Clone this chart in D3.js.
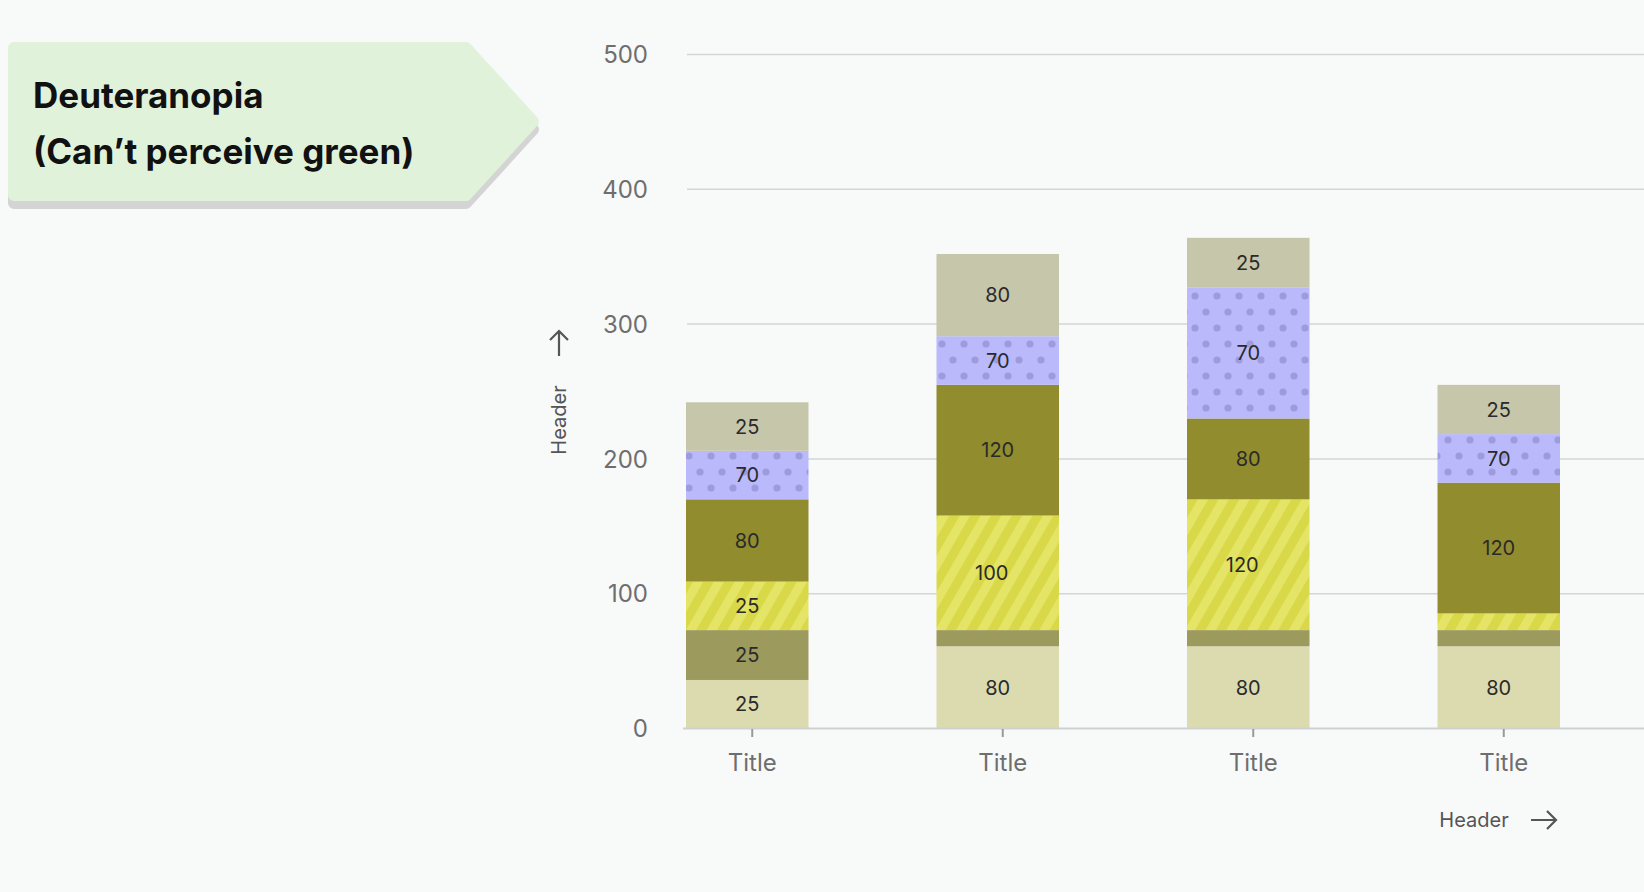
<!DOCTYPE html>
<html>
<head>
<meta charset="utf-8">
<script src="https://cdn.jsdelivr.net/npm/d3@7"></script>
<style>
  html, body { margin: 0; padding: 0; background: #f8f9f9; }
  svg { display: block; font-family: Inter, "Noto Sans", sans-serif; }
</style>
</head>
<body>
<svg id="chart" width="1644" height="892"></svg>
<script>
// ---------- data ----------
const categories = ["Title", "Title", "Title", "Title"];
const yTicks = [0, 100, 200, 300, 400, 500];

// segment heights (bottom -> top)
const baseValues    = [36, 61, 61, 61];
const lowerValues   = [37, 12, 12, 12];
const stripedValues = [36, 85, 97, 12.4];
const oliveValues   = [61, 97, 60, 97];
const dottedValues  = [36, 36, 97, 36];
const topValues     = [36, 61, 37, 36.5];

// printed labels
const baseLabels    = ["25", "80", "80", "80"];
const lowerLabels   = ["25", "", "", ""];
const stripedLabels = ["25", "100", "120", ""];
const oliveLabels   = ["80", "120", "80", "120"];
const dottedLabels  = ["70", "70", "70", "70"];
const topLabels     = ["25", "80", "25", "25"];

const seriesKeys = ["base", "lower", "striped", "olive", "dotted", "top"];
const seriesValues = { base: baseValues, lower: lowerValues, striped: stripedValues,
                       olive: oliveValues, dotted: dottedValues, top: topValues };
const seriesLabels = { base: baseLabels, lower: lowerLabels, striped: stripedLabels,
                       olive: oliveLabels, dotted: dottedLabels, top: topLabels };

const badgeLines = ["Deuteranopia", "(Can\u2019t perceive green)"];
const yAxisTitle = "Header";
const xAxisTitle = "Header";

// ---------- setup ----------
const svg = d3.select("#chart");
const defs = svg.append("defs");

// stripe pattern
const sp = defs.append("pattern").attr("id", "stripes")
  .attr("patternUnits", "userSpaceOnUse").attr("width", 18).attr("height", 18)
  .attr("patternTransform", "rotate(30)");
sp.append("rect").attr("width", 18).attr("height", 18).attr("fill", "#e4e466");
sp.append("rect").attr("x", 0).attr("width", 9).attr("height", 18).attr("fill", "#d8d848");

// dot pattern
const dp = defs.append("pattern").attr("id", "dots")
  .attr("patternUnits", "userSpaceOnUse").attr("width", 22).attr("height", 32)
  .attr("x", 3).attr("y", 4);
dp.append("rect").attr("width", 22).attr("height", 32).attr("fill", "#b9b9fb");
dp.append("circle").attr("cx", 4).attr("cy", 4).attr("r", 3.6).attr("fill", "#9d9bdc");
dp.append("circle").attr("cx", 15).attr("cy", 20).attr("r", 3.6).attr("fill", "#9d9bdc");

const fills = {
  base: "#dcdbb0", lower: "#9d9a5e", striped: "url(#stripes)",
  olive: "#918c2e", dotted: "url(#dots)", top: "#c6c6aa"
};

const y = d3.scaleLinear().domain([0, 500]).range([728.5, 54.5]);
const idx = categories.map((c, i) => i);
const x = d3.scaleBand().domain(idx).range([686, 1560]).paddingInner(0.511).paddingOuter(0);
const tickOffset = 5;

// ---------- badge ----------
const badge = svg.append("g");
const badgePts = [[14, 48], [466, 48], [533, 121.5], [466, 195], [14, 195]];
const badgePath = d3.line()(badgePts) + "Z";
badge.append("path").attr("d", badgePath).attr("transform", "translate(0,8)")
  .attr("fill", "#d4d4d4").attr("stroke", "#d4d4d4").attr("stroke-width", 12).attr("stroke-linejoin", "round");
badge.append("path").attr("d", badgePath)
  .attr("fill", "#e1f2db").attr("stroke", "#e1f2db").attr("stroke-width", 12).attr("stroke-linejoin", "round");
badge.selectAll("text").data(badgeLines).join("text")
  .attr("x", 33).attr("y", (d, i) => 107.5 + i * 56)
  .attr("font-size", 35).attr("font-weight", 700).attr("fill", "#111")
  .text(d => d);

// ---------- grid ----------
svg.append("g").selectAll("line").data(yTicks.filter(t => t > 0)).join("line")
  .attr("x1", 687).attr("x2", 1644)
  .attr("y1", d => y(d)).attr("y2", d => y(d))
  .attr("stroke", "#d4d6d6").attr("stroke-width", 1.5);

// ---------- y axis ----------
const yAxis = svg.append("g").attr("transform", "translate(648,0)")
  .call(d3.axisLeft(y).tickValues(yTicks).tickSize(0).tickPadding(0));
yAxis.select(".domain").remove();
yAxis.selectAll("text").attr("font-size", 24).attr("fill", "#6e6e6e")
  .attr("font-family", "Inter, sans-serif").attr("dy", "0.34em");

// ---------- bars ----------
const rows = idx.map(i => {
  const r = { i };
  seriesKeys.forEach(k => r[k] = seriesValues[k][i]);
  return r;
});
const stacked = d3.stack().keys(seriesKeys)(rows);

const barG = svg.append("g");
stacked.forEach(layer => {
  const key = layer.key;
  barG.append("g").selectAll("rect").data(layer).join("rect")
    .attr("x", d => x(d.data.i))
    .attr("width", x.bandwidth())
    .attr("y", d => y(d[1]))
    .attr("height", d => y(d[0]) - y(d[1]))
    .attr("fill", fills[key]);
});

// labels
const labelG = svg.append("g");
stacked.forEach(layer => {
  const key = layer.key;
  labelG.append("g").selectAll("text").data(layer).join("text")
    .attr("x", d => x(d.data.i) + x.bandwidth() / 2 +
      (key === "striped" && seriesLabels[key][d.data.i].length > 2 ? -6 : 0))
    .attr("y", d => (y(d[0]) + y(d[1])) / 2)
    .attr("dy", "0.36em")
    .attr("text-anchor", "middle")
    .attr("font-size", 20).attr("fill", "#2a2a2a")
    .text(d => seriesLabels[key][d.data.i]);
});

// ---------- x axis ----------
svg.append("line").attr("x1", 683).attr("x2", 1644).attr("y1", 728.5).attr("y2", 728.5)
  .attr("stroke", "#cfd1d1").attr("stroke-width", 2);
const xAxis = svg.append("g").attr("transform", `translate(${tickOffset},729)`)
  .call(d3.axisBottom(x).tickFormat(i => categories[i]).tickSize(8).tickPadding(17));
xAxis.select(".domain").remove();
xAxis.selectAll(".tick line").attr("stroke", "#9a9a9a").attr("stroke-width", 2);
xAxis.selectAll("text").attr("font-size", 24).attr("fill", "#6e6e6e")
  .attr("font-family", "Inter, sans-serif");

// ---------- axis titles ----------
svg.append("text").attr("transform", "translate(566,420) rotate(-90)")
  .attr("text-anchor", "middle").attr("font-size", 20).attr("fill", "#555")
  .text(yAxisTitle);
svg.append("path")
  .attr("d", "M559,356 L559,331 M550,340 L559,331 L568,340")
  .attr("fill", "none").attr("stroke", "#555").attr("stroke-width", 2.2);

svg.append("text").attr("x", 1474).attr("y", 827)
  .attr("text-anchor", "middle").attr("font-size", 20).attr("fill", "#555")
  .text(xAxisTitle);
svg.append("path")
  .attr("d", "M1531,820 L1556,820 M1547,811 L1556,820 L1547,829")
  .attr("fill", "none").attr("stroke", "#555").attr("stroke-width", 2.2);
</script>
</body>
</html>
